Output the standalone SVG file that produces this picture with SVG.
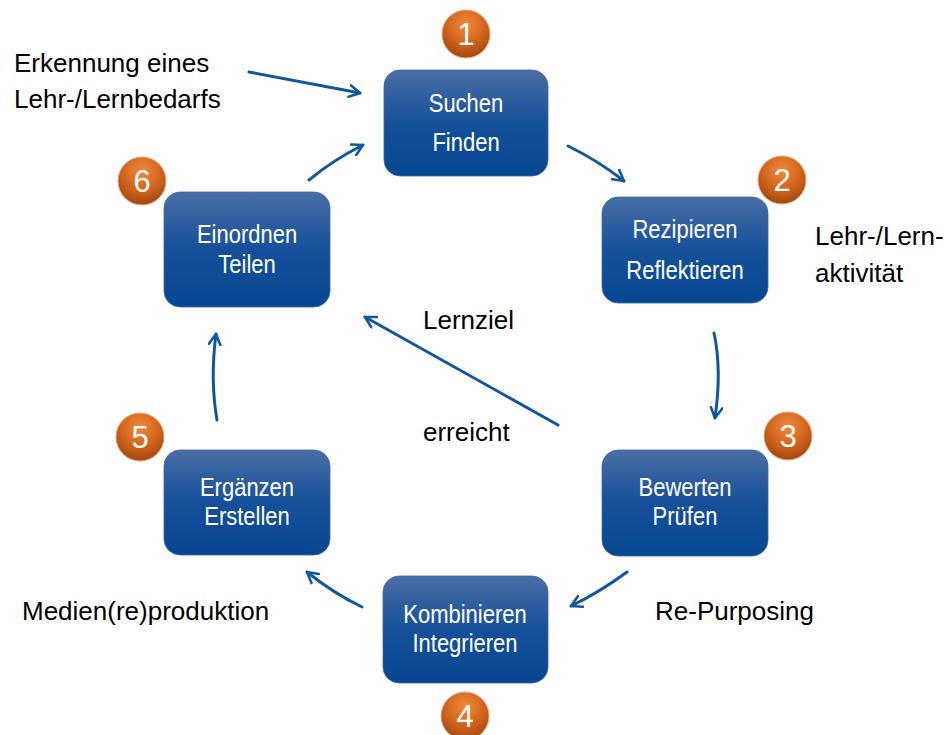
<svg xmlns="http://www.w3.org/2000/svg" width="944" height="735" viewBox="0 0 944 735">
  <defs>
    <linearGradient id="boxFill" x1="0" y1="0" x2="0" y2="1">
      <stop offset="0" stop-color="#4a6ea6"/>
      <stop offset="0.5" stop-color="#16509a"/>
      <stop offset="1" stop-color="#064792"/>
    </linearGradient>
    <radialGradient id="badgeFill" cx="0.5" cy="0.3" r="0.75">
      <stop offset="0" stop-color="#f08a3c"/>
      <stop offset="0.55" stop-color="#d0631c"/>
      <stop offset="1" stop-color="#9a420f"/>
    </radialGradient>
    <marker id="head" viewBox="0 0 12 12" refX="10" refY="6" markerWidth="14" markerHeight="14" markerUnits="userSpaceOnUse" orient="auto">
      <path d="M1,1 L10,6 L1,11" fill="none" stroke="#12579a" stroke-width="2.2" stroke-linecap="round" stroke-linejoin="round"/>
    </marker>
  </defs>
  <style>
    .box { fill: url(#boxFill); stroke: #3f659c; stroke-width: 0.8; }
    .boxText { font-family: "Liberation Sans", Arial, sans-serif; font-size: 25px; fill: #ffffff; text-anchor: middle; }
    .badge { fill: url(#badgeFill); stroke: #e9a677; stroke-width: 1; }
    .badgeText { font-family: "Liberation Sans", Arial, sans-serif; font-size: 31px; fill: #ffffff; text-anchor: middle; }
    .label { font-family: "Liberation Sans", Arial, sans-serif; font-size: 26px; fill: #000000; }
    .conn { fill: none; stroke: #12579a; stroke-width: 3; stroke-linecap: round; marker-end: url(#head); }
  </style>
  <rect width="944" height="735" fill="#ffffff"/>

  <!-- connectors -->
  <g id="connectors">
    <path class="conn" d="M249,72 L360,93"/>
    <path class="conn" d="M309,180 Q333,160 363,145"/>
    <path class="conn" d="M568,146 Q597,160 624,181"/>
    <path class="conn" d="M714,333 Q722,370 715,418"/>
    <path class="conn" d="M627,572 Q600,592 571,606"/>
    <path class="conn" d="M362,607 Q333,593 307,572"/>
    <path class="conn" d="M217,420 Q210,380 216,334"/>
    <path class="conn" d="M558,425 L365,317"/>
  </g>

  <!-- step 1 -->
  <g id="node-suchen">
    <rect class="box" x="384" y="70" width="164" height="106" rx="16"/>
    <text class="boxText" transform="translate(466 112) scale(0.88 1.03)">Suchen</text>
    <text class="boxText" transform="translate(466 151) scale(0.88 1.03)">Finden</text>
    <circle class="badge" cx="466" cy="34" r="24"/>
    <text class="badgeText" x="466" y="45">1</text>
  </g>

  <!-- step 2 -->
  <g id="node-rezipieren">
    <rect class="box" x="602" y="197" width="166" height="106" rx="16"/>
    <text class="boxText" transform="translate(685 238) scale(0.88 1.03)">Rezipieren</text>
    <text class="boxText" transform="translate(685 279) scale(0.88 1.03)">Reflektieren</text>
    <circle class="badge" cx="782" cy="180" r="24"/>
    <text class="badgeText" x="782" y="191">2</text>
  </g>

  <!-- step 3 -->
  <g id="node-bewerten">
    <rect class="box" x="602" y="450" width="166" height="106" rx="16"/>
    <text class="boxText" transform="translate(685 496) scale(0.88 1.03)">Bewerten</text>
    <text class="boxText" transform="translate(685 525) scale(0.88 1.03)">Prüfen</text>
    <circle class="badge" cx="788" cy="436" r="24"/>
    <text class="badgeText" x="788" y="447">3</text>
  </g>

  <!-- step 4 -->
  <g id="node-kombinieren">
    <rect class="box" x="383" y="576" width="165" height="107" rx="16"/>
    <text class="boxText" transform="translate(465 623) scale(0.88 1.03)">Kombinieren</text>
    <text class="boxText" transform="translate(465 652) scale(0.88 1.03)">Integrieren</text>
    <circle class="badge" cx="465" cy="716" r="24"/>
    <text class="badgeText" x="465" y="727">4</text>
  </g>

  <!-- step 5 -->
  <g id="node-ergaenzen">
    <rect class="box" x="164" y="450" width="166" height="105" rx="16"/>
    <text class="boxText" transform="translate(247 496) scale(0.88 1.03)">Ergänzen</text>
    <text class="boxText" transform="translate(247 525) scale(0.88 1.03)">Erstellen</text>
    <circle class="badge" cx="140" cy="437" r="24"/>
    <text class="badgeText" x="140" y="448">5</text>
  </g>

  <!-- step 6 -->
  <g id="node-einordnen">
    <rect class="box" x="164" y="192" width="166" height="115" rx="16"/>
    <text class="boxText" transform="translate(247 243) scale(0.88 1.03)">Einordnen</text>
    <text class="boxText" transform="translate(247 273) scale(0.88 1.03)">Teilen</text>
    <circle class="badge" cx="142" cy="181" r="24"/>
    <text class="badgeText" x="142" y="192">6</text>
  </g>

  <!-- free labels -->
  <g id="labels">
    <text class="label" x="14" y="72">Erkennung eines</text>
    <text class="label" x="14" y="108">Lehr-/Lernbedarfs</text>
    <text class="label" x="815" y="245">Lehr-/Lern-</text>
    <text class="label" x="815" y="282">aktivität</text>
    <text class="label" x="423" y="329">Lernziel</text>
    <text class="label" x="423" y="441">erreicht</text>
    <text class="label" x="22" y="620">Medien(re)produktion</text>
    <text class="label" x="655" y="620">Re-Purposing</text>
  </g>
</svg>
